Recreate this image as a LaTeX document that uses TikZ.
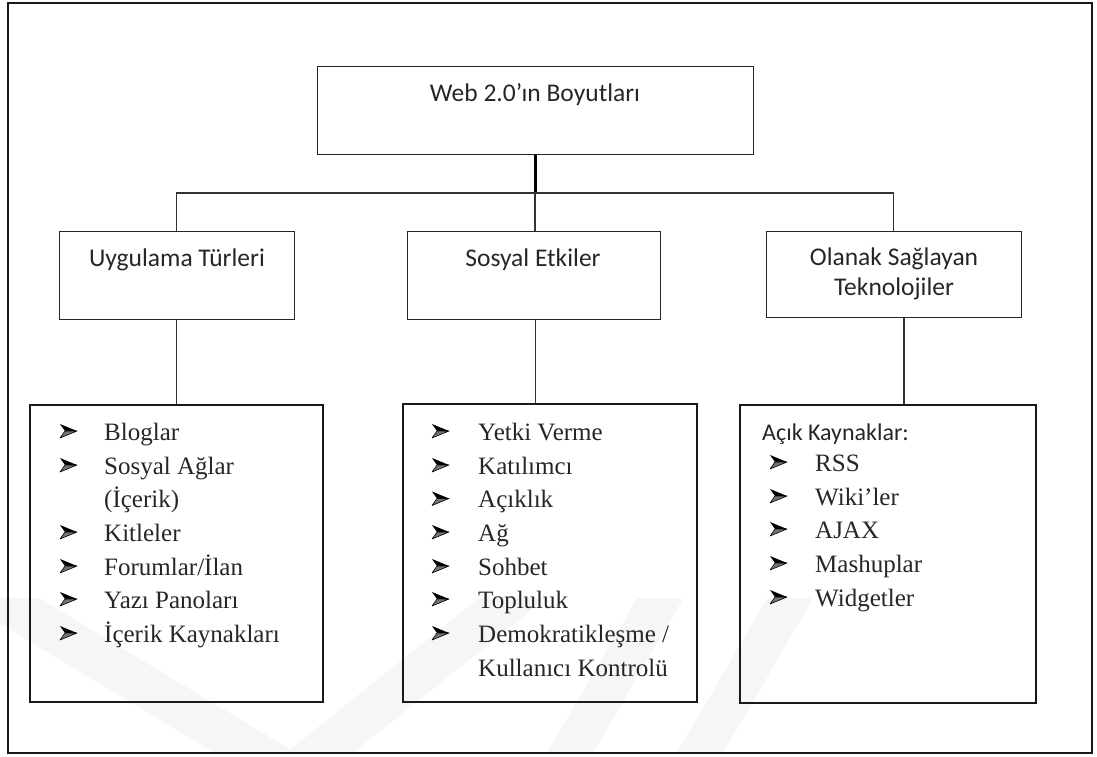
\documentclass[tikz,border=0pt]{standalone}
\usepackage{fontspec}
\setmainfont{Liberation Serif}
\newfontfamily\calfont{Carlito}
\begin{document}
\begin{tikzpicture}[x=1pt,y=-1pt,
  box/.style={draw=black!85, line width=1pt, rectangle, inner sep=0pt},
  listbox/.style={draw=black!90, line width=1.4pt, rectangle, inner sep=0pt},
  conn/.style={draw=black!80, line width=1.1pt},
  hd/.style={font=\calfont\fontsize{25.5}{30}\selectfont, anchor=base, inner sep=0pt, text=black!85},
  hdl/.style={font=\calfont\fontsize{24}{30}\selectfont, anchor=base west, inner sep=0pt, text=black!85},
  it/.style={font=\fontsize{25}{30}\selectfont, anchor=base west, inner sep=0pt, text=black!85},
  arrowbullet/.pic={
    \fill[black] (0,-16) -- (17,-9) -- (5,-9) -- cycle;
    \filldraw[fill=black!55, draw=black, line width=0.6pt, line join=round] (5,-9) -- (17,-9) -- (0,-2) -- cycle;
  }]
\useasboundingbox (0,0) rectangle (1097,756);
% faint watermark
\begin{scope}
\clip (0,598) rectangle (1097,753);
\draw[gray!7, line width=42pt, line join=miter] (-40,575) -- (292,775) -- (560,560);
\draw[gray!7, line width=40pt] (560,770) -- (665,590);
\draw[gray!7, line width=40pt] (690,770) -- (795,590);
\end{scope}
% frame
\node[draw=black!90, line width=1.8pt, minimum width=1084pt, minimum height=750pt, inner sep=0pt] (frame) at (550,378) {};
% boxes
\node[box, minimum width=436pt, minimum height=88pt] (top) at (535,110) {};
\node[box, minimum width=235pt, minimum height=88pt] (ut) at (176.5,275) {};
\node[box, minimum width=253pt, minimum height=88pt] (ss) at (533.5,275) {};
\node[box, minimum width=255pt, minimum height=86pt] (ot) at (893.5,274) {};
\node[listbox, minimum width=293pt, minimum height=297pt] (lb1) at (176.5,553.5) {};
\node[listbox, minimum width=294pt, minimum height=298pt] (lb2) at (550,553) {};
\node[listbox, minimum width=296pt, minimum height=298pt] (lb3) at (888,554) {};
% connectors
\coordinate (hub) at (535,193);
\draw[draw=black, line width=3pt] (top.south) -- (hub);
\draw[conn] (ut.north) -- (ut.north |- hub) -- (ot.north |- hub) -- (ot.north);
\draw[conn] (hub) -- (hub |- ss.north);
\draw[conn] (ut.south) -- (ut.south |- lb1.north);
\draw[conn] ([xshift=2pt]ss.south) -- ([xshift=2pt]ss.south |- lb2.north);
\draw[conn] ([xshift=10.5pt]ot.south) -- ([xshift=10.5pt]ot.south |- lb3.north);
% headings
\node[hd] (t0) at (535,101) {Web 2.0’ın Boyutları};
\node[hd] (t1) at (177,266) {Uygulama Türleri};
\node[hd] (t2) at (533,266) {Sosyal Etkiler};
\node[hd] (t3a) at (894,265) {Olanak Sağlayan};
\node[hd] (t3b) at (894,295) {Teknolojiler};
% left list
\pic at (60,440) {arrowbullet}; \node[it] (a1) at (104,440) {Bloglar};
\pic at (60,474) {arrowbullet}; \node[it] (a2) at (104,474) {Sosyal Ağlar};
\node[it] (a2c) at (104,507.5) {(İçerik)};
\pic at (60,541) {arrowbullet}; \node[it] (a3) at (104,541) {Kitleler};
\pic at (60,575) {arrowbullet}; \node[it] (a4) at (104,575) {Forumlar/İlan};
\pic at (60,608) {arrowbullet}; \node[it] (a5) at (104,608) {Yazı Panoları};
\pic at (60,642) {arrowbullet}; \node[it] (a6) at (104,642) {İçerik Kaynakları};
% middle list
\pic at (432,440) {arrowbullet}; \node[it] (b1) at (478,440) {Yetki Verme};
\pic at (432,474) {arrowbullet}; \node[it] (b2) at (478,474) {Katılımcı};
\pic at (432,507.5) {arrowbullet}; \node[it] (b3) at (478,507.5) {Açıklık};
\pic at (432,541) {arrowbullet}; \node[it] (b4) at (478,541) {Ağ};
\pic at (432,575) {arrowbullet}; \node[it] (b5) at (478,575) {Sohbet};
\pic at (432,608) {arrowbullet}; \node[it] (b6) at (478,608) {Topluluk};
\pic at (432,642) {arrowbullet}; \node[it] (b7) at (478,642) {Demokratikleşme /};
\node[it] (b7c) at (478,676) {Kullanıcı Kontrolü};
% right list
\node[hdl] (c0) at (762,440) {Açık Kaynaklar:};
\pic at (770,471) {arrowbullet}; \node[it] (c1) at (815,471) {RSS};
\pic at (770,505) {arrowbullet}; \node[it] (c2) at (815,505) {Wiki’ler};
\pic at (770,538) {arrowbullet}; \node[it] (c3) at (815,538) {AJAX};
\pic at (770,572) {arrowbullet}; \node[it] (c4) at (815,572) {Mashuplar};
\pic at (770,606) {arrowbullet}; \node[it] (c5) at (815,606) {Widgetler};
\end{tikzpicture}
\end{document}
